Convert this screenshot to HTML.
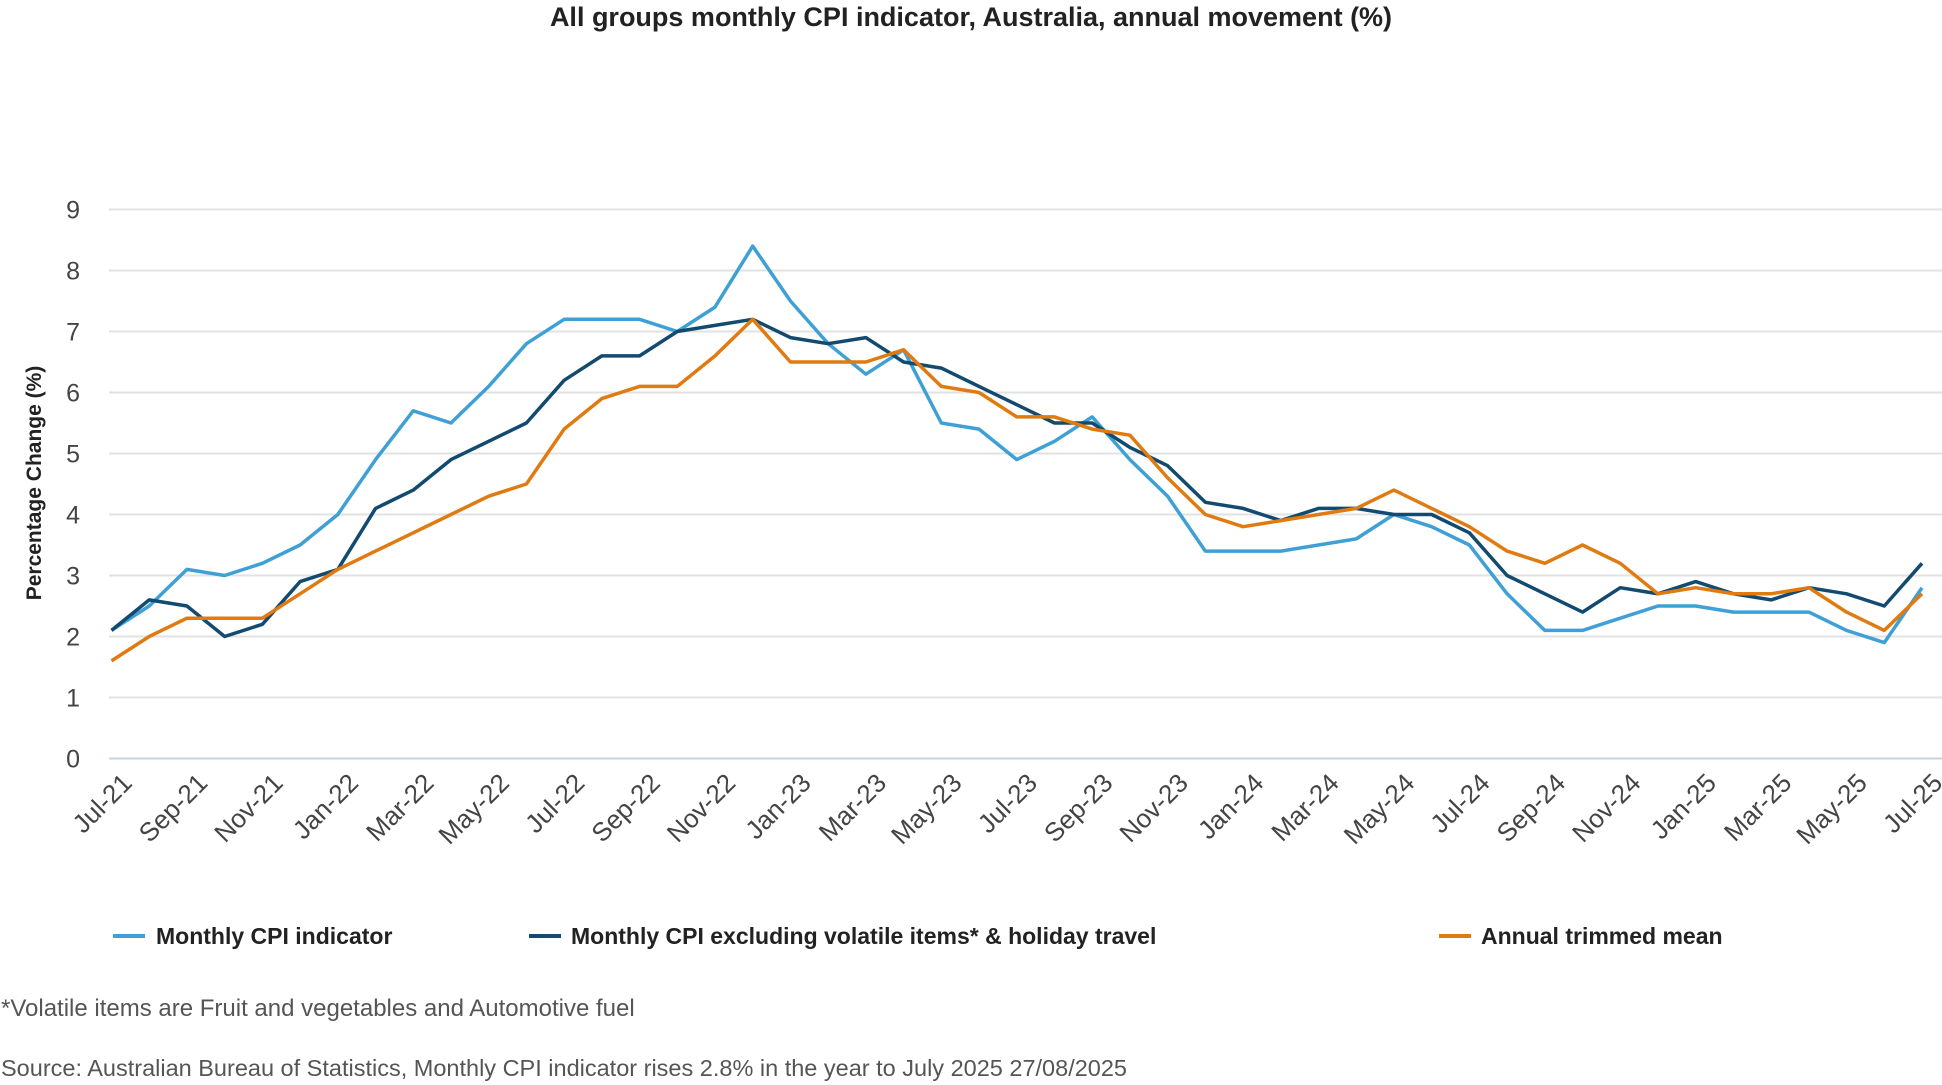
<!DOCTYPE html>
<html><head><meta charset="utf-8"><style>
body{margin:0;background:#fff;width:1942px;height:1085px;overflow:hidden;font-family:"Liberation Sans",sans-serif}
svg{display:block}
</style></head><body>
<svg id="chart" width="1942" height="1085">
<text x="971" y="26" text-anchor="middle" font-size="27" font-weight="bold" fill="#222">All groups monthly CPI indicator, Australia, annual movement (%)</text>
<text transform="translate(41,483) rotate(-90)" text-anchor="middle" font-size="21" font-weight="bold" fill="#222">Percentage Change (%)</text>
<g id="grid"></g><g id="xlabels"></g><g id="lines"></g>
<g>
<g><line x1="113" y1="936" x2="145" y2="936" stroke="#3fa0d6" stroke-width="4"/><text x="156" y="944" font-size="23" font-weight="bold" fill="#222">Monthly CPI indicator</text></g>
<g><line x1="529" y1="936" x2="561" y2="936" stroke="#134a6f" stroke-width="4"/><text x="571" y="944" font-size="23" font-weight="bold" fill="#222">Monthly CPI excluding volatile items* &amp; holiday travel</text></g>
<g><line x1="1439" y1="936" x2="1471" y2="936" stroke="#e07b12" stroke-width="4"/><text x="1481" y="944" font-size="23" font-weight="bold" fill="#222">Annual trimmed mean</text></g>
</g>
<text x="1" y="1016" font-size="24" fill="#555">*Volatile items are Fruit and vegetables and Automotive fuel</text>
<text x="1" y="1076" font-size="23.5" fill="#555">Source: Australian Bureau of Statistics, Monthly CPI indicator rises 2.8% in the year to July 2025 27/08/2025</text>
</svg>
<script>
const months=["Jul-21","Aug-21","Sep-21","Oct-21","Nov-21","Dec-21","Jan-22","Feb-22","Mar-22","Apr-22","May-22","Jun-22","Jul-22","Aug-22","Sep-22","Oct-22","Nov-22","Dec-22","Jan-23","Feb-23","Mar-23","Apr-23","May-23","Jun-23","Jul-23","Aug-23","Sep-23","Oct-23","Nov-23","Dec-23","Jan-24","Feb-24","Mar-24","Apr-24","May-24","Jun-24","Jul-24","Aug-24","Sep-24","Oct-24","Nov-24","Dec-24","Jan-25","Feb-25","Mar-25","Apr-25","May-25","Jun-25","Jul-25"];
const monthlyCPI=[2.1,2.5,3.1,3.0,3.2,3.5,4.0,4.9,5.7,5.5,6.1,6.8,7.2,7.2,7.2,7.0,7.4,8.4,7.5,6.8,6.3,6.7,5.5,5.4,4.9,5.2,5.6,4.9,4.3,3.4,3.4,3.4,3.5,3.6,4.0,3.8,3.5,2.7,2.1,2.1,2.3,2.5,2.5,2.4,2.4,2.4,2.1,1.9,2.8];
const exVolatile=[2.1,2.6,2.5,2.0,2.2,2.9,3.1,4.1,4.4,4.9,5.2,5.5,6.2,6.6,6.6,7.0,7.1,7.2,6.9,6.8,6.9,6.5,6.4,6.1,5.8,5.5,5.5,5.1,4.8,4.2,4.1,3.9,4.1,4.1,4.0,4.0,3.7,3.0,2.7,2.4,2.8,2.7,2.9,2.7,2.6,2.8,2.7,2.5,3.2];
const trimmedMean=[1.6,2.0,2.3,2.3,2.3,2.7,3.1,3.4,3.7,4.0,4.3,4.5,5.4,5.9,6.1,6.1,6.6,7.2,6.5,6.5,6.5,6.7,6.1,6.0,5.6,5.6,5.4,5.3,4.6,4.0,3.8,3.9,4.0,4.1,4.4,4.1,3.8,3.4,3.2,3.5,3.2,2.7,2.8,2.7,2.7,2.8,2.4,2.1,2.7];
const yTicks=[0,1,2,3,4,5,6,7,8,9];
const NS="http://www.w3.org/2000/svg";
const x0=111.5,x1=1922,yb=758.5,yt=209.5;
const xs=i=>x0+(x1-x0)*i/(months.length-1);
const ys=v=>yb-(yb-yt)*v/9;
function mk(t,a,p){const e=document.createElementNS(NS,t);for(const k in a)e.setAttribute(k,a[k]);p.appendChild(e);return e;}
const grid=document.getElementById('grid');
yTicks.forEach(v=>{
 const l=mk('line',{x1:109,x2:1942,y1:ys(v),y2:ys(v),stroke:v===0?'#c5d3e6':'#e2e2e2','stroke-width':2},grid);
 
 
 const t=mk('text',{x:80,y:ys(v)+9,'text-anchor':'end','font-size':25,fill:'#444'},grid);
 t.textContent=v;
 
 
});
const xl=document.getElementById('xlabels');
months.forEach((m,i)=>{
 if(i%2)return;
 const t=mk('text',{transform:`translate(${xs(i)+22},${yb+26}) rotate(-45)`,'text-anchor':'end','font-size':26,fill:'#444'},xl);
 t.textContent=m;
 
 
});
const lines=document.getElementById('lines');
[[monthlyCPI,'#3fa0d6','monthly-cpi-line'],[exVolatile,'#134a6f','excluding-volatile-line'],[trimmedMean,'#e07b12','trimmed-mean-line']].forEach(([d,c,n])=>{
 const p=mk('polyline',{points:d.map((v,i)=>xs(i)+','+ys(v)).join(' '),fill:'none',stroke:c,'stroke-width':3.5,'stroke-linejoin':'round'},lines);
 
 
});
</script>
</body></html>
